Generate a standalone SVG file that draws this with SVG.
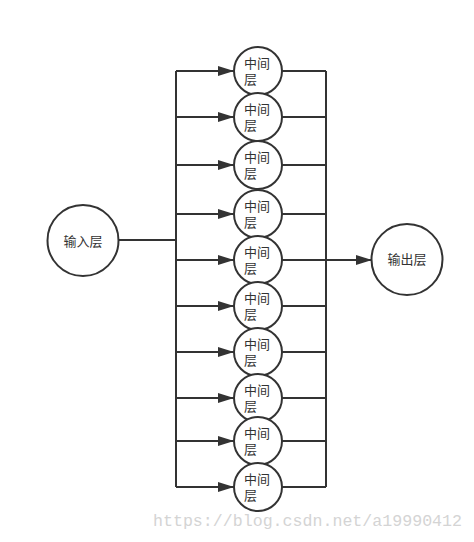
<svg xmlns="http://www.w3.org/2000/svg" width="474" height="542" viewBox="0 0 474 542">
<style>
.n{fill:#fff;stroke:#333;stroke-width:2}
.l{fill:none;stroke:#333;stroke-width:2}
.t{font-family:"Liberation Sans","Noto Sans CJK SC",sans-serif;font-size:13px;fill:#333}
.c{text-anchor:middle;dominant-baseline:central}
.w{font-family:"Liberation Mono",monospace;font-size:16.5px;fill:#d4d4d4}
</style>
<defs>
<marker id="a" viewBox="0 0 16 10" refX="16" refY="5" markerWidth="16" markerHeight="10" markerUnits="userSpaceOnUse" orient="auto">
<path d="M0,0L16,5L0,10z" fill="#333"/>
</marker>
</defs>
<rect width="474" height="542" fill="#fff"/>
<g id="connectors">
<path class="l" d="M118,240H176" stroke-width="3"/>
<path class="l" d="M176,71V487"/>
<path class="l" d="M326,71V487"/>
<path class="l" d="M176,71H234" marker-end="url(#a)"/>
<path class="l" d="M176,117H234" marker-end="url(#a)"/>
<path class="l" d="M176,165H234" marker-end="url(#a)"/>
<path class="l" d="M176,214H234" marker-end="url(#a)"/>
<path class="l" d="M176,260H234" marker-end="url(#a)"/>
<path class="l" d="M176,306H234" marker-end="url(#a)"/>
<path class="l" d="M176,352H234" marker-end="url(#a)"/>
<path class="l" d="M176,398H234" marker-end="url(#a)"/>
<path class="l" d="M176,441H234" marker-end="url(#a)"/>
<path class="l" d="M176,487H234" marker-end="url(#a)"/>
<path class="l" d="M282,71H326M282,117H326M282,165H326M282,214H326M282,306H326M282,352H326M282,398H326M282,441H326M282,487H326"/>
<path class="l" d="M282,260H372" marker-end="url(#a)"/>
</g>
<g id="input"><circle class="n" cx="83" cy="240.5" r="35.5"/><text class="t c" x="83" y="241">输入层</text></g>
<g id="output"><circle class="n" cx="407" cy="259.5" r="35.5"/><text class="t c" x="407" y="259.5">输出层</text></g>
<g id="m1"><circle class="n" cx="258" cy="71" r="24"/><text class="t" x="244" y="68">中间<tspan x="244" dy="16">层</tspan></text></g>
<g id="m2"><circle class="n" cx="258" cy="117" r="24"/><text class="t" x="244" y="114">中间<tspan x="244" dy="16">层</tspan></text></g>
<g id="m3"><circle class="n" cx="258" cy="165" r="24"/><text class="t" x="244" y="162">中间<tspan x="244" dy="16">层</tspan></text></g>
<g id="m4"><circle class="n" cx="258" cy="214" r="24"/><text class="t" x="244" y="211">中间<tspan x="244" dy="16">层</tspan></text></g>
<g id="m5"><circle class="n" cx="258" cy="260" r="24"/><text class="t" x="244" y="257">中间<tspan x="244" dy="16">层</tspan></text></g>
<g id="m6"><circle class="n" cx="258" cy="306" r="24"/><text class="t" x="244" y="303">中间<tspan x="244" dy="16">层</tspan></text></g>
<g id="m7"><circle class="n" cx="258" cy="352" r="24"/><text class="t" x="244" y="349">中间<tspan x="244" dy="16">层</tspan></text></g>
<g id="m8"><circle class="n" cx="258" cy="398" r="24"/><text class="t" x="244" y="395">中间<tspan x="244" dy="16">层</tspan></text></g>
<g id="m9"><circle class="n" cx="258" cy="441" r="24"/><text class="t" x="244" y="438">中间<tspan x="244" dy="16">层</tspan></text></g>
<g id="m10"><circle class="n" cx="258" cy="487" r="24"/><text class="t" x="244" y="484">中间<tspan x="244" dy="16">层</tspan></text></g>
<text class="w" x="153" y="526" textLength="309" lengthAdjust="spacingAndGlyphs">https://blog.csdn.net/a19990412</text>
</svg>
